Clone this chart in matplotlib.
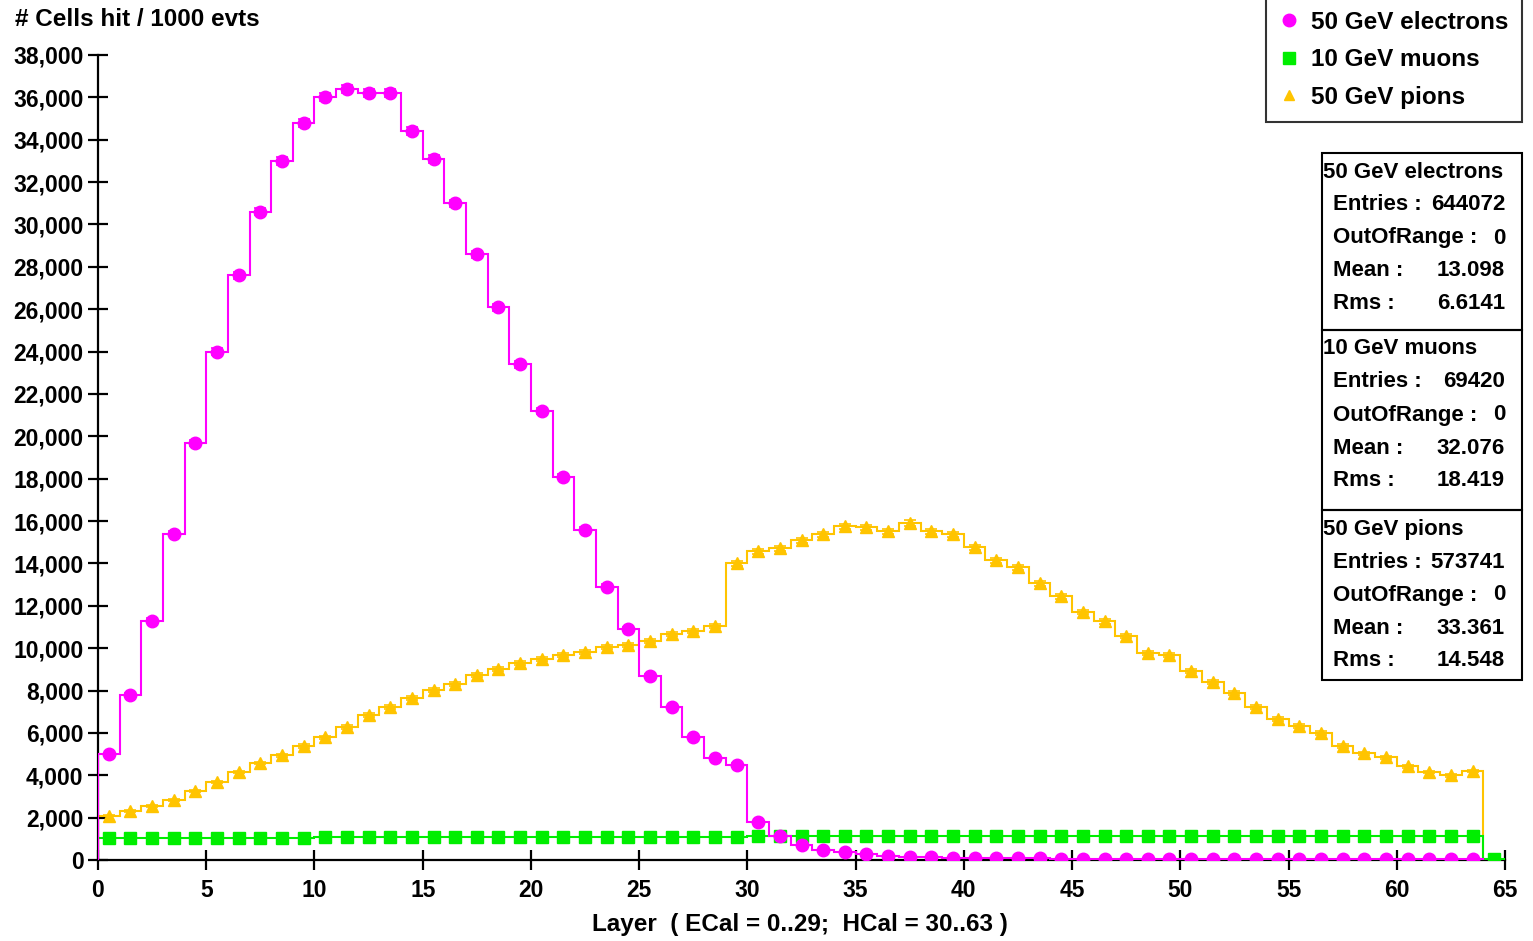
import numpy as np
import matplotlib
matplotlib.use("Agg")
import matplotlib.pyplot as plt
from matplotlib.lines import Line2D
from matplotlib.patches import Rectangle

plt.rcParams["font.family"] = ["Liberation Sans", "DejaVu Sans"]
plt.rcParams["font.weight"] = "bold"

# cells hit per 1000 events, one value per layer
electrons = [5000, 7800, 11300, 15400, 19700, 24000, 27600, 30600, 33000, 34800,
             36000, 36400, 36200, 36200, 34400, 33100, 31000, 28600, 26100, 23400,
             21200, 18100, 15600, 12900, 10900, 8700, 7200, 5800, 4800, 4500,
             1800, 1150, 700, 470, 380, 280, 200, 160, 130, 110,
             100, 90, 80, 75, 70, 65, 60, 55, 50, 50,
             45, 45, 40, 40, 40, 35, 35, 35, 30, 30,
             30, 30, 25, 25]
muons = [1050] * 10 + [1100] * 20 + [1130] * 34 + [60]
pions = [2100, 2300, 2550, 2830, 3250, 3680, 4150, 4580, 4950, 5380,
         5800, 6270, 6840, 7220, 7640, 8020, 8300, 8730, 9000, 9290,
         9480, 9670, 9800, 10050, 10140, 10330, 10660, 10800, 11040, 14000,
         14580, 14720, 15100, 15380, 15750, 15700, 15520, 15900, 15520, 15380,
         14760, 14150, 13820, 13070, 12450, 11700, 11270, 10570, 9760, 9670,
         8920, 8400, 7900, 7220, 6650, 6320, 5990, 5380, 5050, 4860,
         4430, 4150, 4000, 4200]

names = ["50 GeV electrons", "10 GeV muons", "50 GeV pions"]
stats = [
    [("Entries :", "644072"), ("OutOfRange :", "0"), ("Mean :", "13.098"), ("Rms :", "6.6141")],
    [("Entries :", "69420"), ("OutOfRange :", "0"), ("Mean :", "32.076"), ("Rms :", "18.419")],
    [("Entries :", "573741"), ("OutOfRange :", "0"), ("Mean :", "33.361"), ("Rms :", "14.548")],
]

MAG = "#FF00FF"
GRN = "#00EE00"
YEL = "#FFC400"

W, H = 1533, 941
fig = plt.figure(figsize=(W / 100, H / 100), dpi=100)
ax = fig.add_axes([98 / W, (H - 860) / H, (1505 - 98) / W, (860 - 55) / H])


def draw_hist(vals, color, marker, ms, z):
    vals = np.asarray(vals, dtype=float)
    edges = np.arange(len(vals) + 1)
    centers = edges[:-1] + 0.5
    ax.stairs(vals, edges, baseline=0, color=color, lw=1.5, zorder=z)
    ax.errorbar(centers, vals, yerr=np.sqrt(vals), fmt="none", ecolor=color,
                elinewidth=1.2, capsize=4, capthick=1.2, zorder=z)
    ax.plot(centers, vals, ls="none", marker=marker, ms=ms, color=color,
            mec=color, zorder=z + 0.5)


draw_hist(pions, YEL, "^", 8, 2)
draw_hist(muons, GRN, "s", 8, 3)
draw_hist(electrons, MAG, "o", 9, 4)

ax.set_xlim(0, 65)
ax.set_ylim(0, 38000)
ax.set_xticks(range(0, 66, 5))
ax.set_yticks(range(0, 38001, 2000))
ax.set_yticklabels([f"{v:,}" for v in range(0, 38001, 2000)])
for s in ["top", "right"]:
    ax.spines[s].set_visible(False)
for s in ["left", "bottom"]:
    ax.spines[s].set_linewidth(1.6)
ax.tick_params(direction="inout", length=15, width=1.6, labelsize=16.5)
ax.tick_params(axis="x", pad=6)
ax.tick_params(axis="y", pad=3)
for lab in ax.get_xticklabels() + ax.get_yticklabels():
    lab.set_fontweight("bold")

fig.text(15 / W, 1 - 20 / H, "# Cells hit / 1000 evts", fontsize=17.5,
         fontweight="bold", ha="left", va="center")
fig.text(800 / W, 1 - 925 / H, "Layer  ( ECal = 0..29;  HCal = 30..63 )",
         fontsize=17.5, fontweight="bold", ha="center", va="center")

# legend
handles = [
    Line2D([], [], ls="none", marker="o", ms=9, color=MAG),
    Line2D([], [], ls="none", marker="s", ms=8, color=GRN),
    Line2D([], [], ls="none", marker="^", ms=7, color=YEL),
]
leg = fig.legend(handles, names, loc="upper right", bbox_to_anchor=(1522 / W, 1.003),
                 borderaxespad=0, fontsize=17.5, frameon=True, fancybox=False,
                 handlelength=0.8, handletextpad=0.5, labelspacing=0.6, borderpad=0.55)
leg.get_frame().set_edgecolor("black")
leg.get_frame().set_linewidth(1.5)
for t in leg.get_texts():
    t.set_fontweight("bold")

# statistics boxes
tr = fig.transFigure
box_tops = [153, 330, 510]
box_bots = [330, 510, 680]
for i in range(3):
    top, bot = box_tops[i], box_bots[i]
    fig.add_artist(Rectangle((1322 / W, 1 - bot / H), 200 / W, (bot - top) / H,
                             transform=tr, fill=False, ec="black", lw=1.5))
    fig.text(1323 / W, 1 - (top + 19) / H, names[i], fontsize=16, fontweight="bold",
             ha="left", va="center")
    for j, (lab, val) in enumerate(stats[i]):
        y = 1 - (top + 52 + 33 * j) / H
        fig.text(1333 / W, y, lab, fontsize=16, fontweight="bold", ha="left", va="center")
        fig.text(1505 / W, y, val, fontsize=16, fontweight="bold", ha="right", va="center")

fig.savefig("out.png", dpi=100)
